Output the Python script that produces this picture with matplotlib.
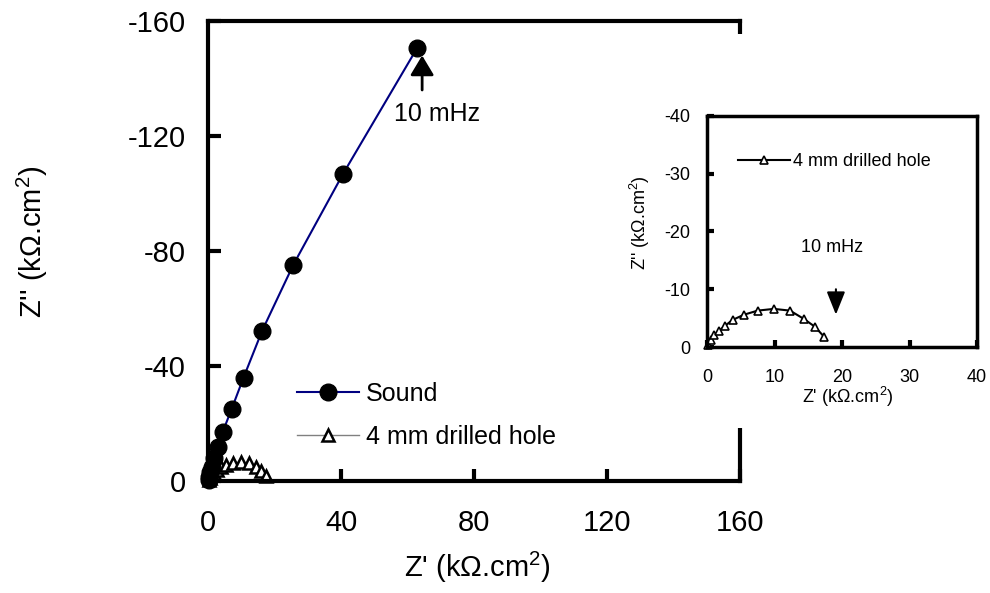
import matplotlib
matplotlib.use("Agg")
import matplotlib.pyplot as plt
from matplotlib.patches import Rectangle

plt.rcParams['font.family'] = ['Liberation Sans', 'DejaVu Sans']
plt.rcParams['mathtext.fontset'] = 'custom'
plt.rcParams['mathtext.rm'] = 'Liberation Sans'
plt.rcParams['mathtext.it'] = 'Liberation Sans:italic'

# impedance data, Z' and -Z'' in kOhm.cm2
sound_zre = [0.2, 0.4, 0.7, 1.2, 1.8, 2.9, 4.4, 7.1, 10.7, 16.3, 25.7, 40.6, 62.9]
sound_zim = [0.5, 1.5, 3.0, 5.0, 8.0, 11.8, 17.0, 25.0, 36.0, 52.3, 75.3, 106.8, 150.6]

hole_zre = [0.2, 0.55, 1.0, 1.8, 2.7, 3.8, 5.5, 7.5, 9.9, 12.3, 14.3, 16.0, 17.4]
hole_zim = [0.3, 1.2, 2.0, 2.8, 3.7, 4.7, 5.6, 6.3, 6.6, 6.3, 4.9, 3.5, 1.7]

main_ticks = [0, 40, 80, 120, 160]
inset_ticks = [0, 10, 20, 30, 40]

neg = lambda v: [-x for x in v]

fig = plt.figure(figsize=(9.9, 5.93), dpi=100)

# main plot
ax = fig.add_axes([208 / 990, 1 - 481 / 593, 532 / 990, 460 / 593])
ax.set_zorder(0)
ax.plot(hole_zre, neg(hole_zim), color='gray', lw=1, marker='^', ms=9,
        mfc='white', mec='black', mew=1.8, clip_on=False, label='4 mm drilled hole')
ax.plot(sound_zre, neg(sound_zim), color='#000080', lw=1.5, marker='o', ms=12,
        mfc='black', mec='black', clip_on=False, label='Sound')
ax.set_xlim(0, 160)
ax.set_ylim(0, -160)
ax.set_xticks(main_ticks)
ax.set_yticks(neg(main_ticks))
ax.set_yticklabels(['0' if t == 0 else f'-{t}' for t in main_ticks])
ax.tick_params(direction='in', length=9, width=3, labelsize=21)
ax.tick_params(axis='x', pad=20)
ax.tick_params(axis='y', pad=16)
for s in ax.spines.values():
    s.set_linewidth(3)
ax.set_xlabel("Z' (kΩ.cm$^{2}$)", fontsize=21, va='center')
ax.xaxis.set_label_coords(0.506, -0.187)
ax.set_ylabel("Z'' (kΩ.cm$^{2}$)", fontsize=21, va='center')
ax.yaxis.set_label_coords(-0.331, 0.52)

h, l = ax.get_legend_handles_labels()
ax.legend(h[::-1], l[::-1], loc='upper left', bbox_to_anchor=(0.167, 0.215),
          frameon=False, fontsize=18, numpoints=1, handlelength=2.5,
          handletextpad=0.25, labelspacing=0.75, borderpad=0, borderaxespad=0)

ax.annotate('', xy=(64.4, -148), xytext=(64.4, -136),
            arrowprops=dict(arrowstyle='-|>,head_length=0.6,head_width=0.36',
                            mutation_scale=20, lw=2, color='black',
                            shrinkA=0, shrinkB=0))
ax.text(68.8, -127.5, '10 mHz', fontsize=18, ha='center', va='center')

# white area behind inset
fig.add_artist(Rectangle((650 / 990, 1 - 428 / 593), 340 / 990, 394 / 593,
                         transform=fig.transFigure, facecolor='white',
                         edgecolor='none', zorder=1))

# inset
ins = fig.add_axes([707 / 990, 1 - 347 / 593, 270 / 990, 231 / 593])
ins.set_zorder(2)
ins.plot(hole_zre, neg(hole_zim), color='black', lw=1.5, marker='^', ms=6,
         mfc='white', mec='black', mew=1.2, clip_on=False, label='4 mm drilled hole')
ins.set_xlim(0, 40)
ins.set_ylim(0, -40)
ins.set_xticks(inset_ticks)
ins.set_yticks(neg(inset_ticks))
ins.set_yticklabels(['0' if t == 0 else f'-{t}' for t in inset_ticks])
ins.tick_params(direction='in', length=5, width=3, labelsize=13)
ins.tick_params(axis='x', pad=16)
ins.tick_params(axis='y', pad=12)
for s in ins.spines.values():
    s.set_linewidth(2.5)
ins.set_xlabel("Z' (kΩ.cm$^{2}$)", fontsize=13, va='center')
ins.xaxis.set_label_coords((848 - 707) / 270, (347 - 397) / 231)
ins.set_ylabel("Z'' (kΩ.cm$^{2}$)", fontsize=13, va='center')
ins.yaxis.set_label_coords((640 - 707) / 270, (347 - 223) / 231)
ins.legend(loc='upper left', bbox_to_anchor=(0.115, 0.84), frameon=False,
           fontsize=13, numpoints=1, handlelength=2.9, handletextpad=0.15,
           borderpad=0, borderaxespad=0)
ins.annotate('', xy=(19.1, -5.6), xytext=(19.1, -10.0),
             arrowprops=dict(arrowstyle='-|>,head_length=0.7,head_width=0.28',
                             mutation_scale=20, lw=1.5, color='black',
                             shrinkA=0, shrinkB=0))
ins.text(18.5, -17.3, '10 mHz', fontsize=13, ha='center', va='center')

fig.savefig('out.png', dpi=100)
